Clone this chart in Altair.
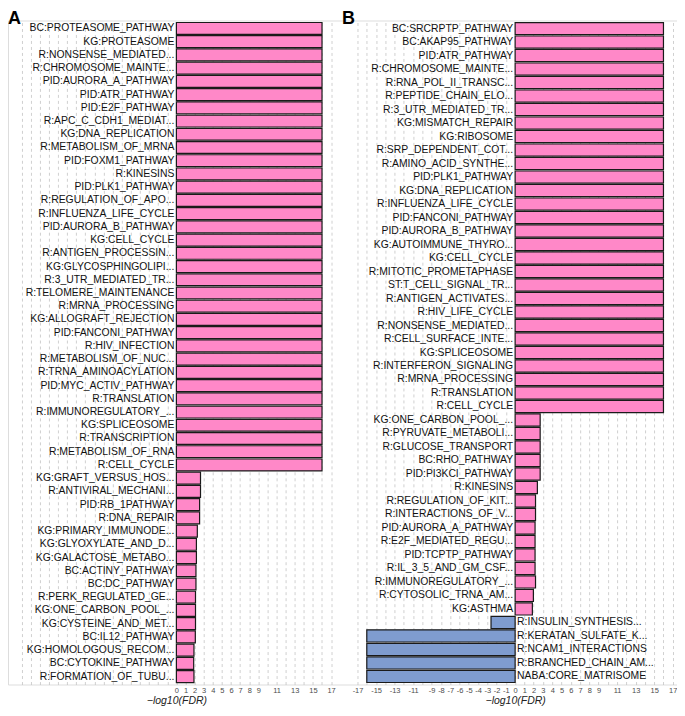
import altair as alt
import pandas as pd

names_a = [
    "BC:PROTEASOME_PATHWAY", "KG:PROTEASOME", "R:NONSENSE_MEDIATED...", "R:CHROMOSOME_MAINTE...",
    "PID:AURORA_A_PATHWAY", "PID:ATR_PATHWAY", "PID:E2F_PATHWAY", "R:APC_C_CDH1_MEDIAT...",
    "KG:DNA_REPLICATION", "R:METABOLISM_OF_MRNA", "PID:FOXM1_PATHWAY", "R:KINESINS",
    "PID:PLK1_PATHWAY", "R:REGULATION_OF_APO...", "R:INFLUENZA_LIFE_CYCLE", "PID:AURORA_B_PATHWAY",
    "KG:CELL_CYCLE", "R:ANTIGEN_PROCESSIN...", "KG:GLYCOSPHINGOLIPI...", "R:3_UTR_MEDIATED_TR...",
    "R:TELOMERE_MAINTENANCE", "R:MRNA_PROCESSING", "KG:ALLOGRAFT_REJECTION", "PID:FANCONI_PATHWAY",
    "R:HIV_INFECTION", "R:METABOLISM_OF_NUC...", "R:TRNA_AMINOACYLATION", "PID:MYC_ACTIV_PATHWAY",
    "R:TRANSLATION", "R:IMMUNOREGULATORY_...", "KG:SPLICEOSOME", "R:TRANSCRIPTION",
    "R:METABOLISM_OF_RNA", "R:CELL_CYCLE", "KG:GRAFT_VERSUS_HOS...", "R:ANTIVIRAL_MECHANI...",
    "PID:RB_1PATHWAY", "R:DNA_REPAIR", "KG:PRIMARY_IMMUNODE...", "KG:GLYOXYLATE_AND_D...",
    "KG:GALACTOSE_METABO...", "BC:ACTINY_PATHWAY", "BC:DC_PATHWAY", "R:PERK_REGULATED_GE...",
    "KG:ONE_CARBON_POOL_...", "KG:CYSTEINE_AND_MET...", "BC:IL12_PATHWAY", "KG:HOMOLOGOUS_RECOM...",
    "BC:CYTOKINE_PATHWAY", "R:FORMATION_OF_TUBU...",
]
vals_a = [
    16, 16, 16, 16, 16, 16, 16, 16, 16, 16, 16, 16, 16, 16, 16, 16, 16,
    16, 16, 16, 16, 16, 16, 16, 16, 16, 16, 16, 16, 16, 16, 16, 16, 16,
    2.65, 2.65, 2.55, 2.55, 2.3, 2.2, 2.2, 2.15, 2.15, 2.1, 2.1, 2.1, 2.08, 1.93, 1.9, 1.93,
]

names_b = [
    "BC:SRCRPTP_PATHWAY", "BC:AKAP95_PATHWAY", "PID:ATR_PATHWAY", "R:CHROMOSOME_MAINTE...",
    "R:RNA_POL_II_TRANSC...", "R:PEPTIDE_CHAIN_ELO...", "R:3_UTR_MEDIATED_TR...", "KG:MISMATCH_REPAIR",
    "KG:RIBOSOME", "R:SRP_DEPENDENT_COT...", "R:AMINO_ACID_SYNTHE...", "PID:PLK1_PATHWAY",
    "KG:DNA_REPLICATION", "R:INFLUENZA_LIFE_CYCLE", "PID:FANCONI_PATHWAY", "PID:AURORA_B_PATHWAY",
    "KG:AUTOIMMUNE_THYRO...", "KG:CELL_CYCLE", "R:MITOTIC_PROMETAPHASE", "ST:T_CELL_SIGNAL_TR...",
    "R:ANTIGEN_ACTIVATES...", "R:HIV_LIFE_CYCLE", "R:NONSENSE_MEDIATED...", "R:CELL_SURFACE_INTE...",
    "KG:SPLICEOSOME", "R:INTERFERON_SIGNALING", "R:MRNA_PROCESSING", "R:TRANSLATION",
    "R:CELL_CYCLE", "KG:ONE_CARBON_POOL_...", "R:PYRUVATE_METABOLI...", "R:GLUCOSE_TRANSPORT",
    "BC:RHO_PATHWAY", "PID:PI3KCI_PATHWAY", "R:KINESINS", "R:REGULATION_OF_KIT...",
    "R:INTERACTIONS_OF_V...", "PID:AURORA_A_PATHWAY", "R:E2F_MEDIATED_REGU...", "PID:TCPTP_PATHWAY",
    "R:IL_3_5_AND_GM_CSF...", "R:IMMUNOREGULATORY_...", "R:CYTOSOLIC_TRNA_AM...", "KG:ASTHMA",
    "R:INSULIN_SYNTHESIS...", "R:KERATAN_SULFATE_K...", "R:NCAM1_INTERACTIONS", "R:BRANCHED_CHAIN_AM...",
    "NABA:CORE_MATRISOME",
]
vals_b = [
    16, 16, 16, 16, 16, 16, 16, 16, 16, 16, 16, 16, 16, 16, 16,
    16, 16, 16, 16, 16, 16, 16, 16, 16, 16, 16, 16, 16, 16,
    2.7, 2.7, 2.7, 2.7, 2.7, 2.4, 2.2, 2.2, 2.15, 2.15, 2.15, 2.15, 2.2, 1.97, 1.86,
    -2.6, -16, -16, -16, -16,
]

tick_values = list(range(-17, 18))
PINK = "#FF88C8"
BLUE = "#7F9CCF"
FONT = "Liberation Sans"
W, H = 670, 665
LABEL_SIZE = 10.4

# x domains of each panel over the shared drawing width
dom_a = [-18.5, 55.0]
dom_b = [-54.7, 17.46]
zero_a = W * (0 - dom_a[0]) / (dom_a[1] - dom_a[0])
zero_b = W * (0 - dom_b[0]) / (dom_b[1] - dom_b[0])


def make_axis(expr, title_x):
    return alt.Axis(values=tick_values, tickCount=100, format="d", labelExpr=expr, orient="bottom",
                    title="\u2212log10(FDR)", titleX=title_x, titleAlign="center",
                    grid=True, gridDash=[3, 3], gridColor="#c4c4c4", gridWidth=0.8,
                    domain=False, ticks=False, tickSize=0, labelOverlap=False, labelFlush=False,
                    labelFontSize=7.5, labelColor="#4d4d4d", labelPadding=2.5, labelBaseline="top",
                    labelFont=FONT, titleFont=FONT, titleFontSize=10.5,
                    titleFontStyle="italic", titleFontWeight="normal",
                    titleColor="#222222", titlePadding=1)


df_a = pd.DataFrame({"name": names_a, "value": vals_a})
df_b = pd.DataFrame({"name": names_b, "value": vals_b})

ya = alt.Y("name:N", sort=names_a, axis=None, scale=alt.Scale(paddingInner=0.1, paddingOuter=0.15))
yb = alt.Y("name:N", sort=names_b, axis=None, scale=alt.Scale(paddingInner=0.1, paddingOuter=0.15))

expr_a = ("datum.value < 0 || (abs(datum.value) >= 10 && datum.value % 2 == 0) ? '' : "
          "replace(datum.label, '\u2212', '-')")
expr_b = ("(abs(datum.value) >= 10 && datum.value % 2 == 0) ? '' : "
          "replace(datum.label, '\u2212', '-')")

bars_a = alt.Chart(df_a).mark_bar(stroke="#1a1a1a", strokeWidth=1.2, color=PINK).encode(
    x=alt.X("value:Q", scale=alt.Scale(domain=dom_a, nice=False, zero=False),
            axis=make_axis(expr_a, zero_a)),
    y=ya,
)
txt_a = alt.Chart(df_a).mark_text(
    align="right", baseline="middle", dx=-2, fontSize=LABEL_SIZE, font=FONT, color="#111111"
).encode(x=alt.datum(0), y=ya, text="name:N")
layer_a = alt.layer(bars_a, txt_a)

bars_b = alt.Chart(df_b).mark_bar(stroke="#1a1a1a", strokeWidth=1.2).encode(
    x=alt.X("value:Q", scale=alt.Scale(domain=dom_b, nice=False, zero=False),
            axis=make_axis(expr_b, zero_b)),
    y=yb,
    color=alt.condition("datum.value > 0", alt.value(PINK), alt.value(BLUE)),
)
txt_b_up = alt.Chart(df_b).transform_filter("datum.value > 0").mark_text(
    align="right", baseline="middle", dx=-2, fontSize=LABEL_SIZE, font=FONT, color="#111111"
).encode(x=alt.datum(0), y=yb, text="name:N")
txt_b_dn = alt.Chart(df_b).transform_filter("datum.value < 0").mark_text(
    align="left", baseline="middle", dx=2, fontSize=LABEL_SIZE, font=FONT, color="#111111"
).encode(x=alt.datum(0), y=yb, text="name:N")
layer_b = alt.layer(bars_b, txt_b_up, txt_b_dn)

lab_a = alt.Chart(pd.DataFrame({"t": ["A"]})).mark_text(
    align="left", baseline="alphabetic", fontSize=18, fontWeight="bold", font=FONT, color="#000000"
).encode(text="t:N", x=alt.value(0), y=alt.value(3))
lab_b = alt.Chart(pd.DataFrame({"t": ["B"]})).mark_text(
    align="left", baseline="alphabetic", fontSize=18, fontWeight="bold", font=FONT, color="#000000"
).encode(text="t:N", x=alt.value(334.5), y=alt.value(3))

chart = alt.layer(layer_a, layer_b, lab_a, lab_b).resolve_scale(
    x="independent", y="independent"
).properties(
    width=W, height=H,
    autosize=alt.AutoSizeParams(type="none"),
    padding={"left": 0, "top": 12, "right": 0, "bottom": 23},
).configure_view(stroke=None).configure(font=FONT)

chart.save("out.html", embed_options={"renderer": "svg", "actions": False})
